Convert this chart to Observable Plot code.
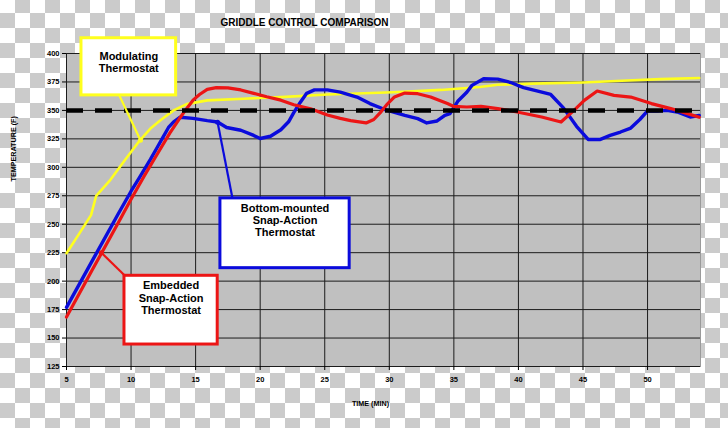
<!DOCTYPE html>
<html>
<head>
<meta charset="utf-8">
<script src="https://cdn.jsdelivr.net/npm/d3@7"></script>
<script src="https://cdn.jsdelivr.net/npm/@observablehq/plot@0.6"></script>
<style>
  html, body { margin: 0; padding: 0; width: 728px; height: 428px; overflow: hidden; }
  body {
    background-color: #fff;
    background-image: conic-gradient(#cbcbcb 25%, #fff 0 50%, #cbcbcb 0 75%, #fff 0);
    background-size: 30px 30px;
    background-position: 0 -2px;
  }
  #chart svg { display: block; }
</style>
</head>
<body>
<div id="chart"></div>
<script>
// ---- Data (time in minutes, temperature in °F) ----
const title = "GRIDDLE CONTROL COMPARISON";
const xLabel = "TIME (MIN)";
const yLabel = "TEMPERATURE (F)";
const xTicks = [5, 10, 15, 20, 25, 30, 35, 40, 45, 50];
const yTicks = [125, 150, 175, 200, 225, 250, 275, 300, 325, 350, 375, 400];
const setpoint = 350;

const modulating = [
  [5, 224.5], [6, 242], [6.9, 258], [7.3, 275], [8.4, 289], [9.5, 306], [10.7, 324],
  [11.5, 334], [12.3, 341.5], [13.3, 350], [14.3, 355.5], [15.9, 358.8], [18.7, 360.3],
  [21.6, 361.7], [25.2, 364], [30.3, 366], [34, 368], [37, 370.5], [38.4, 372.5],
  [41, 373.5], [45, 374.5], [48, 376], [51, 377.5], [54, 378.5]
];
const bottomMounted = [
  [5, 177], [7, 218], [9, 259], [10, 279], [10.6, 290], [11.5, 307], [12, 317], [12.5, 327],
  [12.9, 335], [13.3, 340], [13.8, 344],
  [14.8, 343], [15.9, 341], [16.7, 339.8], [17.4, 335], [18.5, 332.6], [19.5, 328], [20, 325.3],
  [20.8, 327.3], [21.6, 333], [22.2, 340], [22.6, 348], [23.1, 357], [23.6, 365], [24.2, 368],
  [25.2, 368], [26.2, 366], [27.5, 361.7], [28.5, 356], [29.6, 351], [31.2, 345.7], [32.2, 342.8],
  [32.9, 339], [33.7, 340.7], [34.3, 345.7], [34.7, 347.2], [35.3, 358], [36, 366], [36.4, 372],
  [37.3, 377.8], [38.4, 377.5], [39.4, 374.5], [40.4, 370], [41.5, 367], [42.5, 364], [43.5, 352],
  [44.5, 336], [45.4, 324.5], [46.3, 324.4], [47.1, 328], [47.9, 331], [48.7, 334.5], [49.4, 342],
  [50, 349.5], [50.7, 349.5], [51.5, 350], [52.3, 348.6], [53.3, 344.2], [54, 345.5]
];
const embedded = [
  [5, 168.5], [7, 210], [9, 251], [10, 272], [11, 292], [12, 311],
  [13, 330], [13.7, 342], [14.2, 350], [14.8, 359], [15.3, 364], [15.9, 368.5], [16.6, 370],
  [17.5, 369.8], [18.5, 368], [19.5, 365], [20.5, 362], [21.6, 359], [22.6, 355], [23.9, 351.5],
  [25.2, 346], [26.2, 343], [27, 341], [28.2, 339], [28.8, 342], [29.3, 348], [29.8, 355],
  [30.4, 361.8], [31.2, 365.2], [32.2, 364.7], [33.2, 361.8], [34.5, 356], [35, 353.5], [36, 353],
  [37.1, 353.5], [38.4, 351.6], [39.9, 348.6], [41.8, 344.2], [43.3, 339.8], [44.3, 350],
  [45.1, 358.8], [46.1, 367], [47.4, 363.2], [48.7, 361.7], [50.3, 356], [51.8, 351.6],
  [53.1, 347.2], [54, 344]
];

const seriesNames = ["Modulating Thermostat", "Bottom-mounted Snap-Action Thermostat", "Embedded Snap-Action Thermostat"];
const seriesColors = ["#ffff1e", "#0b0bdc", "#ec1515"];
const seriesWidths = [2.6, 3.4, 3.2];
const seriesData = [modulating, bottomMounted, embedded];

// Callout boxes (in data coordinates) with pointer lines
const annotations = [
  { label: "Modulating\nThermostat", color: "#ffff1e",
    x1: 6.16, x2: 13.49, y1: 413.4, y2: 363.2, ty: 402.0,
    px1: 8.87, py1: 368.5, px2: 10.73, py2: 323.8 },
  { label: "Bottom-mounted\nSnap-Action\nThermostat", color: "#0b0bdc",
    x1: 16.92, x2: 26.93, y1: 272.7, y2: 211.4, ty: 268.6,
    px1: 17.85, py1: 273, px2: 16.7, py2: 339.6 },
  { label: "Embedded\nSnap-Action\nThermostat", color: "#ec1515",
    x1: 9.49, x2: 16.71, y1: 204.7, y2: 144.3, ty: 200.6,
    px1: 9.45, py1: 205.6, px2: 7.7, py2: 225 }
];

const font = "'Liberation Sans', Arial, Helvetica, sans-serif";

const lineMarks = seriesData.map((data, i) =>
  Plot.line(data, { x: d => d[0], y: d => d[1], stroke: seriesColors[i], strokeWidth: seriesWidths[i],
    strokeLinejoin: "round", strokeLinecap: "round" })
);

const chart = Plot.plot({
  width: 728,
  height: 428,
  marginLeft: 66,
  marginRight: 28,
  marginTop: 53,
  marginBottom: 62,
  x: { domain: [5, 54.1] },
  y: { domain: [125, 400] },
  color: { type: "identity" },
  style: { background: "transparent", fontFamily: font, overflow: "visible", color: "#000" },
  marks: [
    Plot.frame({ fill: "#c0c0c0", stroke: "#9a9a9a", strokeWidth: 1 }),
    Plot.ruleY(yTicks, { stroke: "#1c1c1c", strokeWidth: 1 }),
    Plot.ruleX(xTicks, { stroke: "#1c1c1c", strokeWidth: 1 }),
    Plot.axisY(yTicks, { tickSize: 4, tickPadding: 3, fontSize: 7.5, fontWeight: "bold", label: null, stroke: "#000" }),
    Plot.axisX(xTicks, { tickSize: 4, tickPadding: 6, fontSize: 7.5, fontWeight: "bold", label: null, stroke: "#000" }),
    ...lineMarks,
    Plot.ruleY([setpoint], { stroke: "#000", strokeWidth: 4.5, strokeDasharray: "17,12" }),
    Plot.link(annotations, { x1: "px1", y1: "py1", x2: "px2", y2: "py2", stroke: "color", strokeWidth: 2.2 }),
    Plot.dot(annotations, { x: "px2", y: "py2", r: 2.5, fill: "color" }),
    Plot.rect(annotations, { x1: "x1", x2: "x2", y1: "y1", y2: "y2", fill: "white", stroke: "color", strokeWidth: 3 }),
    Plot.text(annotations, { x: d => (d.x1 + d.x2) / 2, y: "ty", text: "label", lineAnchor: "top",
      fontSize: 11, fontWeight: "bold", lineHeight: 1.12, fill: "#000" }),
    Plot.text([title], { frameAnchor: "top-left", dx: 238, dy: -34.7, fontSize: 10, fontWeight: "bold", textAnchor: "middle", fill: "#000" }),
    Plot.text([xLabel], { frameAnchor: "bottom", dx: -13, dy: 39, fontSize: 7.2, fontWeight: "bold", fill: "#000" }),
    Plot.text([yLabel], { frameAnchor: "left", dx: -53, dy: -28.5, rotate: -90, fontSize: 7.2, fontWeight: "bold", fill: "#000" })
  ]
});
document.getElementById("chart").appendChild(chart);
</script>
</body>
</html>
